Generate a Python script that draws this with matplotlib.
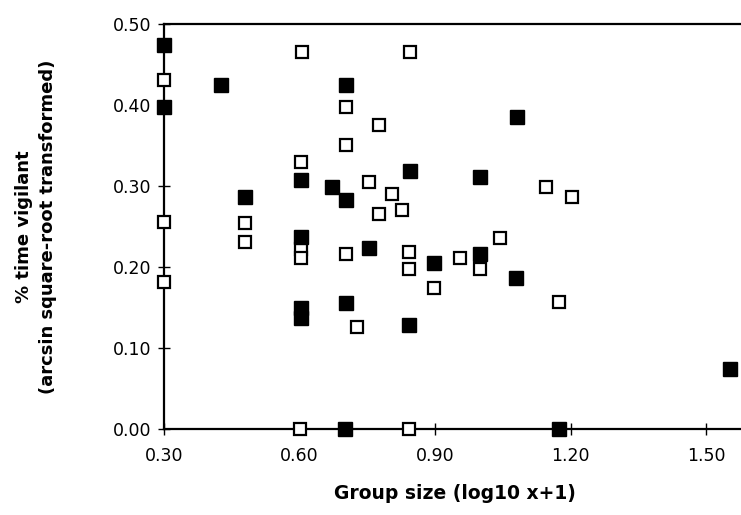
import matplotlib
matplotlib.use("Agg")
import matplotlib.pyplot as plt
import numpy as np

plt.rcParams["font.family"] = ["DejaVu Sans"]

# filled squares
filled_x = [0.30, 0.30, 0.426, 0.479, 0.603, 0.603, 0.603, 0.603, 0.672, 0.703,
            0.703, 0.703, 0.70, 0.754, 0.845, 0.843, 0.898, 1.00, 1.00, 1.081,
            1.079, 1.174, 1.553]
filled_y = [0.474, 0.398, 0.425, 0.287, 0.307, 0.237, 0.149, 0.137, 0.299, 0.425,
            0.283, 0.156, 0.0, 0.223, 0.319, 0.128, 0.205, 0.311, 0.216, 0.385,
            0.186, 0.0, 0.074]

# open squares
open_x = [0.30, 0.30, 0.30, 0.479, 0.479, 0.605, 0.603, 0.603, 0.603, 0.601,
          0.703, 0.703, 0.703, 0.727, 0.754, 0.776, 0.776, 0.805, 0.827, 0.845,
          0.843, 0.843, 0.843, 0.898, 0.955, 1.00, 1.044, 1.146, 1.174, 1.203]
open_y = [0.431, 0.256, 0.181, 0.254, 0.231, 0.465, 0.330, 0.222, 0.211, 0.0,
          0.398, 0.351, 0.216, 0.126, 0.305, 0.375, 0.265, 0.290, 0.270, 0.465,
          0.219, 0.198, 0.0, 0.174, 0.211, 0.198, 0.236, 0.299, 0.157, 0.287]

x_ticks = [0.30, 0.60, 0.90, 1.20, 1.50]
y_ticks = [0.00, 0.10, 0.20, 0.30, 0.40, 0.50]

fig = plt.figure(figsize=(7.41, 5.15), dpi=100)
ax = fig.add_axes([164 / 741, 1 - 429 / 515, 1 - 164 / 741, (429 - 24) / 515])

ax.plot(open_x, open_y, linestyle="none", marker="s", markersize=9,
        markerfacecolor="white", markeredgecolor="black", markeredgewidth=1.6,
        clip_on=False, zorder=3)
ax.plot(filled_x, filled_y, linestyle="none", marker="s", markersize=9.5,
        markerfacecolor="black", markeredgecolor="black", clip_on=False, zorder=4)

ax.set_xlim(0.30, 0.30 + (741 - 164) / 451.7)
ax.set_ylim(0.0, 0.50)
ax.set_xticks(x_ticks)
ax.set_yticks(y_ticks)
ax.set_xticklabels([f"{v:.2f}" for v in x_ticks])
ax.set_yticklabels([f"{v:.2f}" for v in y_ticks])
ax.tick_params(direction="inout", length=8, width=1, labelsize=12.5)
ax.tick_params(axis="x", pad=9)
ax.tick_params(axis="y", pad=5)

for side in ["left", "bottom", "top"]:
    ax.spines[side].set_linewidth(1.6)
ax.spines["right"].set_visible(False)

ax.set_xlabel("Group size (log10 x+1)", fontsize=13.5, fontweight="bold")
ax.xaxis.set_label_coords((455 - 164) / 577, -(484 - 429) / 405)
ax.set_ylabel("% time vigilant\n(arcsin square-root transformed)", fontsize=13,
              fontweight="bold", linespacing=1.45, va="center")
ax.yaxis.set_label_coords(-(164 - 36) / 577, 0.5)

fig.savefig("out.png", dpi=100)
